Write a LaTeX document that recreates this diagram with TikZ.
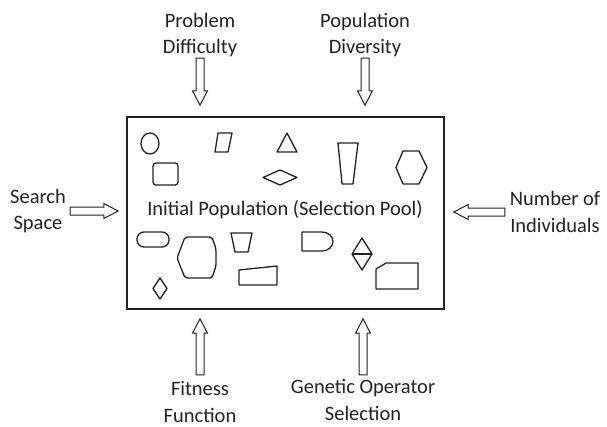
\documentclass[tikz,border=0pt]{standalone}
\usepackage{fontspec}
\setmainfont{Carlito}
\usetikzlibrary{shapes.arrows}
\definecolor{inkgray}{HTML}{222222}
\begin{document}
\begin{tikzpicture}[x=1pt,y=-1pt,
        every node/.style={text=inkgray,font=\fontsize{20.5}{26.5}\selectfont},
        label/.style={align=center,inner sep=0pt},
        shapeline/.style={draw=inkgray,line width=1.3pt,line join=round},
        hollowarrow/.style={single arrow,draw=inkgray,line width=1pt,
            inner xsep=0pt,inner ysep=3.5pt,single arrow head extend=3.5pt,
            single arrow tip angle=55}]
        \useasboundingbox (0,0) rectangle (607,426);
        %% Pool
        \node[draw=inkgray,line width=1.5pt,minimum width=317pt,minimum height=192pt,
            inner sep=0pt] (pool) at (285.5,213) {};
        \node[inner sep=0pt] (title) at (285,210) {Initial Population (Selection Pool)};
        %% Factors
        \node[label] (diff) at (200,35) {Problem\\Difficulty};
        \node[label] (divers) at (365,35) {Population\\Diversity};
        \node[label] (space) at (38,211) {Search\\Space};
        \node[label] (indiv) at (555,212) {Number of\\Individuals};
        \node[label] (fit) at (200,402) {Fitness\\Function};
        \node[label] (genop) at (363,400) {Genetic Operator\\Selection};
        %% Arrows
        \node[hollowarrow,minimum height=47pt,rotate=-90,anchor=tip] (diffarrow)
            at ([yshift=10pt]pool.north -| diff) {};
        \node[hollowarrow,minimum height=47pt,rotate=-90,anchor=tip] (diversarrow)
            at ([yshift=10pt]pool.north -| divers) {};
        \node[hollowarrow,minimum height=48pt,anchor=tip] (spacearrow)
            at ([xshift=-7pt]pool.west |- space) {};
        \node[hollowarrow,minimum height=51pt,rotate=180,anchor=tip] (indivarrow)
            at ([xshift=8pt]pool.east |- indiv) {};
        \node[hollowarrow,minimum height=56pt,rotate=90,anchor=tip] (fitarrow)
            at ([yshift=-8pt]pool.south -| fit) {};
        \node[hollowarrow,minimum height=56pt,rotate=90,anchor=tip] (genoparrow)
            at ([yshift=-8pt]pool.south -| genop) {};
        %% Individuals, upper row
        \draw[shapeline] (150,143.5) ellipse [x radius=9,y radius=10.5];
        \draw[shapeline,rounded corners=3pt] (153,163) rectangle (178,185);
        \draw[shapeline] (218,133) -- (232,133) -- (228,152) -- (215,152) -- cycle;
        \draw[shapeline] (287,133) -- (297,152) -- (277,152) -- cycle;
        \draw[shapeline] (263,177.5) -- (280,170) -- (297,177.5) -- (280,185) -- cycle;
        \draw[shapeline] (338,143) -- (358,143) -- (353,184) -- (342,184) -- cycle;
        \draw[shapeline] (396,167.5) -- (403,151) -- (419,151) -- (427,167.5)
            -- (419,184) -- (403,184) -- cycle;
        %% Individuals, lower row
        \draw[shapeline,rounded corners=7pt] (137,232) rectangle (169,247);
        \draw[shapeline,rounded corners=2pt] (185,237) -- (212,237) -- (216,249)
            -- (216,266) -- (212,278) -- (185,278) -- (177,258) -- cycle;
        \draw[shapeline] (160,278) -- (167,288.5) -- (160,299) -- (153,288.5) -- cycle;
        \draw[shapeline] (231,233) -- (252,233) -- (248,252) -- (235,252) -- cycle;
        \draw[shapeline] (239,270) -- (277,266) -- (277,285) -- (239,285) -- cycle;
        \draw[shapeline] (302,232) -- (322,232)
            arc [start angle=-90,end angle=90,x radius=11,y radius=9.5]
            -- (302,251) -- cycle;
        \draw[shapeline] (362,238) -- (372,254) -- (362,270) -- (352,254) -- cycle;
        \draw[shapeline] (352,254) -- (372,254);
        \draw[shapeline] (386,263) -- (418,263) -- (418,289) -- (376,289)
            -- (376,269) -- cycle;
    \end{tikzpicture}
\end{document}
